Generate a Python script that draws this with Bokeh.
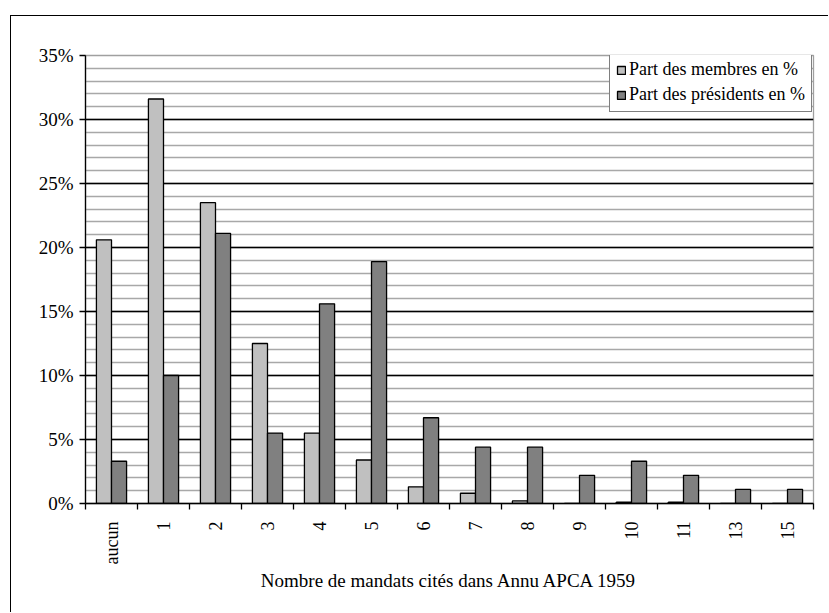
import math
from bokeh.plotting import figure
from bokeh.models import ColumnDataSource, Range1d, FixedTicker, Legend, LegendItem
from bokeh.transform import dodge
from bokeh.embed import file_html
from bokeh.resources import INLINE

categories = ["aucun", "1", "2", "3", "4", "5", "6", "7", "8", "9", "10", "11", "13", "15"]
membres = [20.6, 31.6, 23.5, 12.5, 5.5, 3.4, 1.3, 0.8, 0.2, 0.0, 0.1, 0.1, 0.0, 0.0]
presidents = [3.3, 10.0, 21.1, 5.5, 15.6, 18.9, 6.7, 4.4, 4.4, 2.2, 3.3, 2.2, 1.1, 1.1]
y_ticks = [0, 5, 10, 15, 20, 25, 30, 35]
y_labels = ["0%", "5%", "10%", "15%", "20%", "25%", "30%", "35%"]

FONT = "Liberation Serif"
n = len(categories)
idx = list(range(n))
src = ColumnDataSource(dict(x=idx, m=membres, p=presidents))

p = figure(width=818, height=597, output_backend="svg", toolbar_location=None,
           x_range=Range1d(-0.5, n - 0.5), y_range=Range1d(0, 35),
           min_border_left=74, min_border_right=16, min_border_top=39, min_border_bottom=110)
p.styles = {"margin-left": "10px", "margin-top": "15px",
            "border-left": "1px solid black", "border-top": "1px solid black"}
p.outline_line_color = "#a0a0a0"
p.outline_line_width = 1.3

# grids
p.xgrid.visible = False
p.ygrid.ticker = FixedTicker(ticks=[0, 5, 10, 15, 20, 25, 30],
                             minor_ticks=list(range(1, 36)))
p.ygrid.grid_line_color = "black"
p.ygrid.grid_line_width = 1.3
p.ygrid.minor_grid_line_color = "#a8a8a8"
p.ygrid.minor_grid_line_width = 1.3

w = 0.29
r1 = p.vbar(x=dodge("x", -w / 2, range=p.x_range), top="m", width=w, source=src,
            fill_color="#c0c0c0", line_color="black", line_width=1.3)
r2 = p.vbar(x=dodge("x", w / 2, range=p.x_range), top="p", width=w, source=src,
            fill_color="#808080", line_color="black", line_width=1.3)

# y axis
ya = p.yaxis[0]
ya.ticker = FixedTicker(ticks=y_ticks, minor_ticks=[])
ya.major_label_overrides = {t: l for t, l in zip(y_ticks, y_labels)}
ya.axis_line_color = "black"
ya.axis_line_width = 1.3
ya.major_tick_in = 0
ya.major_tick_out = 6
ya.major_tick_line_width = 1.3
ya.minor_tick_out = 0
ya.minor_tick_in = 0
ya.major_label_text_font = FONT
ya.major_label_text_font_size = "19px"
ya.major_label_text_color = "black"
ya.major_label_standoff = 6

# x axis
xa = p.xaxis[0]
xa.ticker = FixedTicker(ticks=idx, minor_ticks=[i - 0.5 for i in range(n + 1)])
xa.major_label_overrides = {i: c for i, c in zip(idx, categories)}
xa.major_label_orientation = math.pi / 2
xa.major_tick_in = 0
xa.major_tick_out = 0
xa.minor_tick_in = 0
xa.minor_tick_out = 6
xa.minor_tick_line_width = 1.3
xa.axis_line_color = "black"
xa.axis_line_width = 1.3
xa.major_label_text_font = FONT
xa.major_label_text_font_size = "18px"
xa.major_label_text_color = "black"
xa.major_label_standoff = 12
xa.axis_label = "Nombre de mandats cités dans Annu APCA 1959"
xa.axis_label_text_font = FONT
xa.axis_label_text_font_size = "19px"
xa.axis_label_text_font_style = "normal"
xa.axis_label_text_color = "black"
xa.axis_label_standoff = 3

legend = Legend(items=[LegendItem(label="Part des membres en %", renderers=[r1]),
                       LegendItem(label="Part des présidents en %", renderers=[r2])],
                location=(524, 391))
legend.label_text_font = FONT
legend.label_text_font_size = "18px"
legend.label_text_color = "black"
legend.glyph_width = 10
legend.glyph_height = 10
legend.label_standoff = 3
legend.label_height = 20
legend.spacing = 4
legend.padding = 6
legend.margin = 0
legend.border_line_color = "black"
legend.border_line_width = 1.3
legend.background_fill_alpha = 1.0
p.add_layout(legend, "center")

open("out.html", "w").write(file_html(p, INLINE))
